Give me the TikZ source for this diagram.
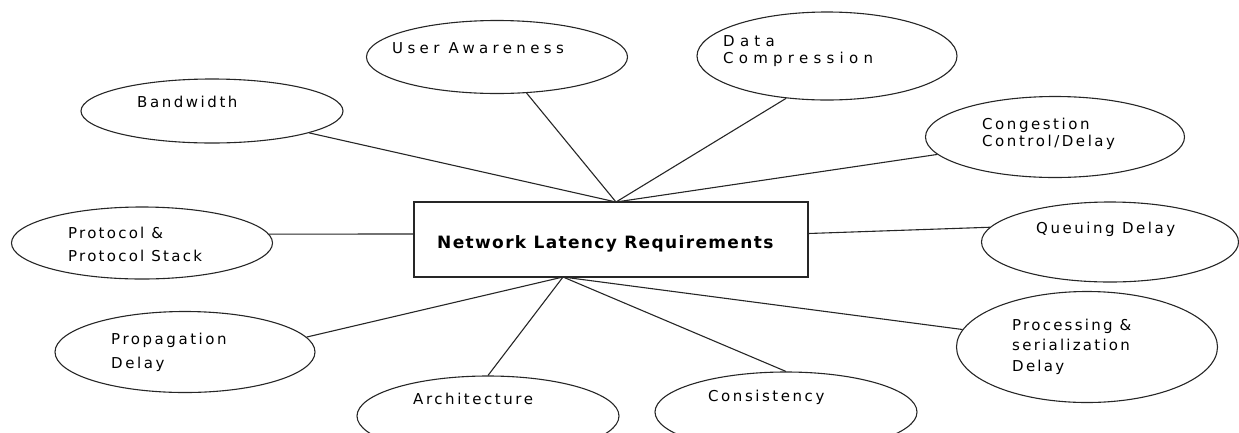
\documentclass[tikz,border=0pt]{standalone}
\usepackage{fontspec}
\usetikzlibrary{shapes.geometric}
\newfontfamily\lab{DejaVu Sans}[LetterSpace=17]
\newfontfamily\labN{DejaVu Sans}[LetterSpace=15]
\newfontfamily\labUA{DejaVu Sans}[LetterSpace=29]
\newfontfamily\labDC{DejaVu Sans}[LetterSpace=35]
\newfontfamily\labB{DejaVu Sans}[LetterSpace=8]
\tikzset{
  bub/.style={ellipse, draw=black!85, line width=1.1pt, inner sep=0pt},
  hubbox/.style={rectangle, draw=black!85, line width=1.1pt, inner sep=0pt},
  lbl/.style={anchor=north west, inner sep=0pt, align=left, text=black},
  conn/.style={draw=black!85, line width=1.1pt},
}
\begin{document}
\begin{tikzpicture}[x=1pt,y=-1pt]
\useasboundingbox (0,0) rectangle (1239,432);
\clip (0,0) rectangle (1239,432);

% central box
\node[hubbox, minimum width=394pt, minimum height=75pt] (box) at (611,239.5) {};
\node[inner sep=0pt, anchor=north west, font=\labB\bfseries\fontsize{17}{20}\selectfont] (boxt) at (437,235.5) {Network Latency Requirements};
\coordinate (hubT) at (616,202);
\coordinate (hubB) at (563,277);

% ellipses
\node[bub, minimum width=262pt, minimum height=64pt] (bw) at (212,111) {};
\node[bub, minimum width=261pt, minimum height=73pt] (ua) at (497,57) {};
\node[bub, minimum width=260pt, minimum height=88pt] (dc) at (827,56) {};
\node[bub, minimum width=259pt, minimum height=81pt] (cc) at (1055,137) {};
\node[bub, minimum width=257pt, minimum height=80pt] (qd) at (1110,242) {};
\node[bub, minimum width=261pt, minimum height=72pt] (pr) at (142,243) {};
\node[bub, minimum width=260pt, minimum height=81pt] (pd) at (185,352) {};
\node[bub, minimum width=262pt, minimum height=80pt] (ar) at (488,416) {};
\node[bub, minimum width=262pt, minimum height=80pt] (co) at (786,412) {};
\node[bub, minimum width=261pt, minimum height=111pt] (ps) at (1087,347) {};

% labels
\node[lbl, font=\lab\fontsize{15}{17}\selectfont] (bwt) at (137,96) {Bandwidth};
\node[lbl, font=\labUA\fontsize{15}{17}\selectfont] (uat) at (392,42.5) {User Awareness};
\node[lbl, font=\labDC\fontsize{15}{17}\selectfont] (dct) at (723,35.5) {Data\\Compression};
\node[lbl, font=\lab\fontsize{15}{17}\selectfont] (cct) at (982,117.5) {Congestion\\Control/Delay};
\node[lbl, font=\lab\fontsize{15}{17}\selectfont] (qdt) at (1036,221.5) {Queuing Delay};
\node[lbl, font=\labN\fontsize{15}{23}\selectfont] (prt) at (68,226.5) {Protocol \&\\Protocol Stack};
\node[lbl, font=\lab\fontsize{15}{24}\selectfont] (pdt) at (111,332.5) {Propagation\\Delay};
\node[lbl, font=\lab\fontsize{15}{17}\selectfont] (art) at (413,392.5) {Architecture};
\node[lbl, font=\lab\fontsize{15}{17}\selectfont] (cot) at (708,389.5) {Consistency};
\node[lbl, font=\labN\fontsize{15}{20.5}\selectfont] (pst) at (1012,318.5) {Processing \&\\serialization\\Delay};

% connectors
\draw[conn] (bw) -- (hubT);
\draw[conn] (ua) -- (hubT);
\draw[conn] (dc.-134) -- (hubT);
\draw[conn] (cc) -- (hubT);
\draw[conn] (qd.173) -- ([yshift=6pt]box.east);
\draw[conn] (pr.4) -- ([yshift=5.5pt]box.west);
\draw[conn] (pd.7) -- (hubB);
\draw[conn] (ar.north) -- (hubB);
\draw[conn] (co.north) -- (hubB);
\draw[conn] (ps.172) -- (hubB);
\end{tikzpicture}
\end{document}
